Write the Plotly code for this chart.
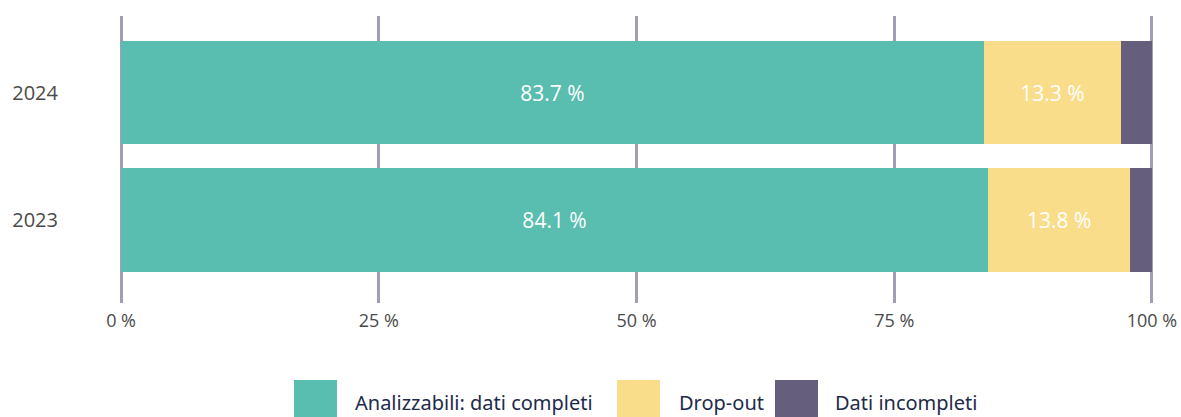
import plotly.graph_objects as go

YEARS = ["2023", "2024"]
SERIES_NAMES = ["Analizzabili: dati completi", "Drop-out", "Dati incompleti"]
ANALIZZABILI = [84.1, 83.7]
DROP_OUT = [13.8, 13.3]
INCOMPLETI = [2.1, 3.0]
X_TICKS = [0, 25, 50, 75, 100]

COLORS = ["#59BDAF", "#F9DD8B", "#655E7D"]
GRID_COLOR = "#A29CB7"
TICK_COLOR = "#4A4A4A"
LEGEND_TEXT = "#1E2B4A"

fig = go.Figure()
for name, vals, color, show_text in zip(
    SERIES_NAMES, [ANALIZZABILI, DROP_OUT, INCOMPLETI], COLORS, [True, True, False]
):
    fig.add_trace(
        go.Bar(
            y=YEARS,
            x=vals,
            name=name,
            orientation="h",
            marker=dict(color=color, line=dict(width=0)),
            texttemplate="%{x:.1f} %" if show_text else "",
            textposition="inside" if show_text else "none",
            insidetextanchor="middle",
            textangle=0,
            textfont=dict(color="white", size=21, family="Open Sans"),
            showlegend=False,
            width=0.81,
        )
    )

# plot area in pixels; x range padded a little so the 0 and 100 grid lines show
plot_left, plot_right, plot_top, plot_bottom = 119, 1154, 16, 303
pw, ph = plot_right - plot_left, plot_bottom - plot_top


def px_x(v):
    return (v - plot_left) / pw


def px_y(v):
    return (plot_bottom - v) / ph


# legend drawn as swatches + labels under the chart
legend_items = [(294, 353), (617, 677), (775, 833)]
for (sx, tx), name, color in zip(legend_items, SERIES_NAMES, COLORS):
    fig.add_shape(
        type="rect", xref="paper", yref="paper",
        x0=px_x(sx), x1=px_x(sx + 43), y0=px_y(380), y1=px_y(423),
        fillcolor=color, line=dict(width=0),
    )
    fig.add_annotation(
        xref="paper", yref="paper", x=px_x(tx), y=px_y(402),
        text=name, showarrow=False, xanchor="left", yanchor="middle",
        font=dict(size=20, color=LEGEND_TEXT, family="Noto Sans"),
    )

fig.update_layout(
    barmode="stack",
    width=1181,
    height=417,
    plot_bgcolor="white",
    paper_bgcolor="white",
    margin=dict(l=plot_left, r=1181 - plot_right, t=plot_top, b=417 - plot_bottom),
    xaxis=dict(
        range=[-0.2, 100.2],
        tickvals=X_TICKS,
        ticktext=[f"{t} %" for t in X_TICKS],
        showgrid=True,
        gridcolor=GRID_COLOR,
        gridwidth=3,
        zeroline=False,
        showline=False,
        ticks="",
        ticklabelstandoff=5,
        automargin=False,
        tickfont=dict(size=18, color=TICK_COLOR, family="Open Sans"),
    ),
    yaxis=dict(
        range=[-0.651, 1.6],
        showgrid=False,
        zeroline=False,
        showline=False,
        ticks="",
        ticklabelstandoff=60,
        automargin=False,
        tickfont=dict(size=20, color=TICK_COLOR, family="Open Sans"),
    ),
)

fig.write_html(
    "out.html",
    config={"displayModeBar": False},
    post_script="document.body.style.margin='0';document.body.style.overflow='hidden';",
)
